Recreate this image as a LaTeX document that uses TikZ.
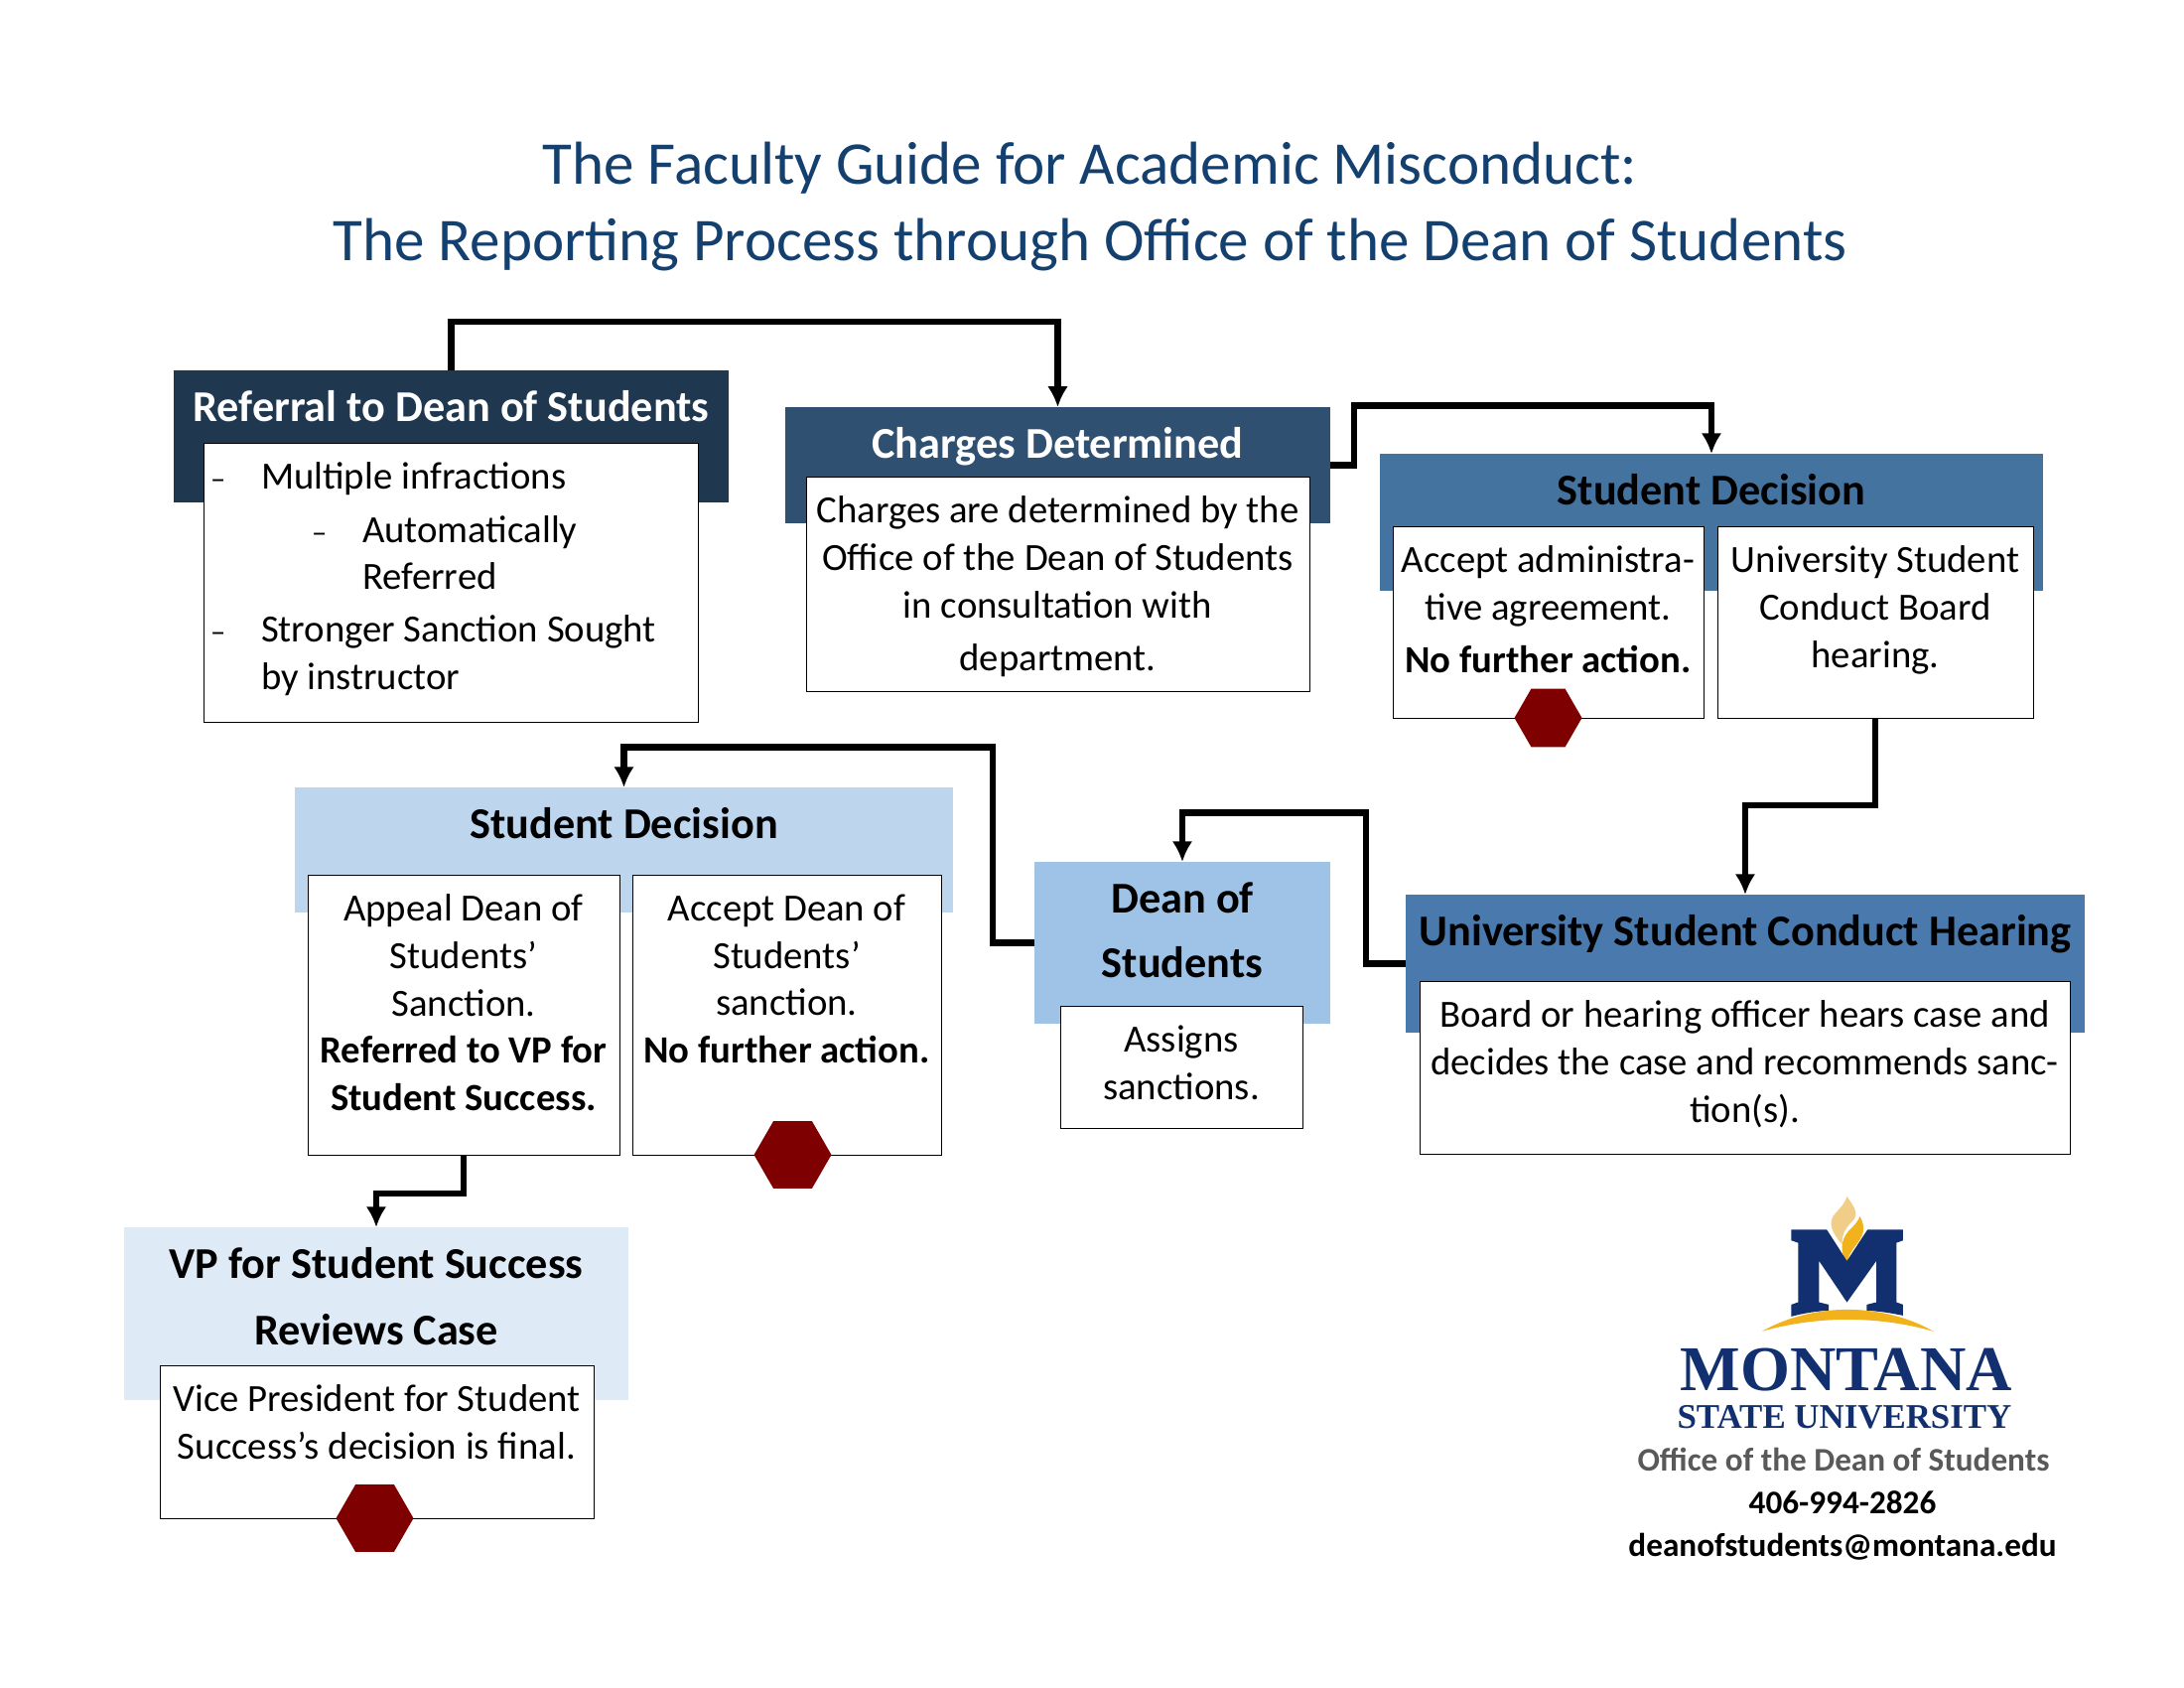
\documentclass[tikz,border=0pt]{standalone}
\usepackage{fontspec}
\setmainfont{Carlito}
\newfontfamily\logofont{Liberation Serif}
\usetikzlibrary{arrows.meta, shapes.geometric}

\definecolor{titleblue}{HTML}{14406F}
\definecolor{headA}{HTML}{1F3850}
\definecolor{headB}{HTML}{2F5070}
\definecolor{headC}{HTML}{44739F}
\definecolor{headD}{HTML}{BDD6EE}
\definecolor{headE}{HTML}{9FC3E7}
\definecolor{headF}{HTML}{4A7AAD}
\definecolor{headG}{HTML}{DEEAF6}
\definecolor{stopred}{HTML}{7F0000}
\definecolor{msunavy}{HTML}{12306F}
\definecolor{msugold}{HTML}{F2B21C}
\definecolor{msulight}{HTML}{F0CE88}
\definecolor{officegray}{HTML}{595959}

\newlength\pxu
\setlength\pxu{0.127mm}
\newcommand{\headtext}[3]{\parbox[t][#2\pxu][t]{#1\pxu}{\centering\fontsize{16}{19.5}\selectfont\bfseries\vspace*{20.5\pxu}#3}}
\newcommand{\bodytext}[3]{\parbox[t][#2\pxu][t]{#1\pxu}{\centering\fontsize{14}{17.2}\selectfont\vspace*{20\pxu}#3}}
\newcommand{\dashitem}[1]{\hspace*{#1\pxu}\makebox[51\pxu][l]{\fontsize{11}{11}\selectfont –}}

\tikzset{
    headbox/.style={anchor=north west, inner sep=0pt, outer sep=0pt},
    bodybox/.style={anchor=north west, draw=black, line width=0.35pt, fill=white, inner sep=0pt, outer sep=0pt},
    flow/.style={draw=black, line width=2.3pt, -{Latex[length=7.5pt, width=7.5pt]}},
    stophex/.style={regular polygon, regular polygon sides=6, fill=stopred, inner sep=0pt}
}

\begin{document}
\begin{tikzpicture}[x=0.127mm, y=-0.127mm]
\useasboundingbox (0,0) rectangle (2200,1700);

\node[align=center, text=titleblue, font=\fontsize{22.08}{27.7}\selectfont] (title) at (1098,208)
    {The Faculty Guide for Academic Misconduct:\\The Reporting Process through Office of the Dean of Students};

% header bands
\node[headbox, fill=headA, text=white] (referral) at (175,373) {\headtext{559}{133}{Referral to Dean of Students}};
\node[headbox, fill=headB, text=white] (charges) at (791,410) {\headtext{549}{117}{Charges Determined}};
\node[headbox, fill=headC] (decideA) at (1390,457) {\headtext{668}{138}{Student Decision}};
\node[headbox, fill=headD] (decideB) at (297,793) {\headtext{663}{126}{Student Decision}};
\node[headbox, fill=headE] (dean) at (1042,868) {\headtext{298}{163}{Dean of\\[4pt] Students}};
\node[headbox, fill=headF] (hearing) at (1416,901) {\headtext{684}{139}{University Student Conduct Hearing}};
\node[headbox, fill=headG] (vp) at (125,1236) {\headtext{508}{174}{VP for Student Success\\[4.5pt] Reviews Case}};

% connectors
\draw[flow] (referral.north) -- ++(0,-49) -| (charges.north);
\draw[flow] (charges.east) -- ++(24,0) -- ++(0,-60) -| (decideA.north);
\draw[flow] (hearing.west) -- ++(-40,0) -- ++(0,-152) -| (dean.north);
\draw[flow] (dean.west) -- ++(-42,0) -- ++(0,-197) -| (decideB.north);

% white boxes
\node[bodybox] (referralbox) at (205,446) {\bodytext{498}{281}{\raggedright
    \dashitem{7}Multiple infractions\\[2pt]
    \dashitem{109}Automatically\\
    \hspace*{160\pxu}Referred\\[2pt]
    \dashitem{7}Stronger Sanction Sought\\
    \hspace*{58\pxu}by instructor}};
\node[bodybox] (chargesbox) at (812,480) {\bodytext{507}{216}{Charges are determined by the\\Office of the Dean of Students\\in consultation with\\[2pt] department.}};
\node[bodybox] (acceptbox) at (1403,530) {\bodytext{313}{193}{Accept administra-\\tive agreement.\\[2pt] \textbf{No further action.}}};
\node[bodybox] (boardbox) at (1730,530) {\bodytext{318}{193}{University Student\\Conduct Board\\hearing.}};
\node[bodybox] (appealbox) at (310,881) {\bodytext{314}{282}{Appeal Dean of\\Students’\\Sanction.\\\textbf{Referred to VP for}\\\textbf{Student Success.}}};
\node[bodybox] (sanctionbox) at (637,881) {\bodytext{311}{282}{Accept Dean of\\Students’\\sanction.\\\textbf{No further action.}}};
\node[bodybox] (deanbox) at (1068,1013) {\bodytext{244}{123}{Assigns\\sanctions.}};
\node[bodybox] (hearingbox) at (1430,988) {\bodytext{655}{174}{Board or hearing officer hears case and\\decides the case and recommends sanc-\\tion(s).}};
\node[bodybox] (vpbox) at (161,1375) {\bodytext{437}{154}{Vice President for Student\\Success’s decision is final.}};

\draw[flow] (boardbox.south) -- ++(0,88) -| (hearing.north);
\draw[flow] (appealbox.south) -- ++(0,39) -| (vp.north);

% stop signs
\node[stophex, minimum size=68\pxu] (stopA) at (acceptbox.south) {};
\node[stophex, minimum size=78\pxu] (stopB) at ([xshift=6\pxu]sanctionbox.south) {};
\node[stophex, minimum size=78\pxu] (stopC) at ([xshift=-2\pxu]vpbox.south) {};

% logo
\begin{scope}[shift={(1550,1170)}, x=0.0488mm, y=-0.0423mm]
    \fill[msulight] (808,105) .. controls (830,140) and (840,160) .. (822,180) .. controls (800,205) and (795,225) .. (795,250) .. controls (770,215) and (755,185) .. (778,155) .. controls (795,135) and (805,120) .. (808,105) -- cycle;
    \fill[msugold] (842,165) .. controls (860,205) and (850,225) .. (830,255) .. controls (820,270) and (812,285) .. (808,305) .. controls (790,275) and (790,240) .. (812,210) .. controls (825,195) and (838,180) .. (842,165) -- cycle;
    \fill[msunavy] (662,205) -- (755,205) -- (808,300) -- (862,205) -- (955,205) -- (955,238) -- (938,245) -- (938,425) -- (955,432) -- (955,465) .. controls (925,458) and (895,452) .. (860,450) -- (860,432) -- (885,425) -- (885,300) -- (808,425) -- (735,300) -- (735,425) -- (760,432) -- (760,450) .. controls (725,452) and (695,458) .. (662,468) -- (662,432) -- (680,425) -- (680,245) -- (662,238) -- cycle;
    \fill[msugold] (585,513) .. controls (650,470) and (730,447) .. (810,447) .. controls (890,447) and (970,470) .. (1035,513) .. controls (960,488) and (880,477) .. (810,477) .. controls (740,477) and (660,488) .. (585,513) -- cycle;
\end{scope}
\node[text=msunavy, inner sep=0pt, font=\logofont\bfseries\fontsize{23.2}{23}\selectfont] (montana) at (1860,1380) {MONTANA};
\node[text=msunavy, inner sep=0pt, font=\logofont\bfseries\fontsize{12.6}{12.3}\selectfont] (stateuni) at (1858,1427) {STATE UNIVERSITY};
\node[text=officegray, inner sep=0pt, font=\bfseries\fontsize{12}{14}\selectfont] (office) at (1857,1470) {Office of the Dean of Students};
\node[inner sep=0pt, font=\bfseries\fontsize{12}{14}\selectfont] (phone) at (1856,1513) {406-994-2826};
\node[inner sep=0pt, font=\bfseries\fontsize{12}{14}\selectfont] (email) at (1856,1558) {deanofstudents@montana.edu};
\end{tikzpicture}
\end{document}
